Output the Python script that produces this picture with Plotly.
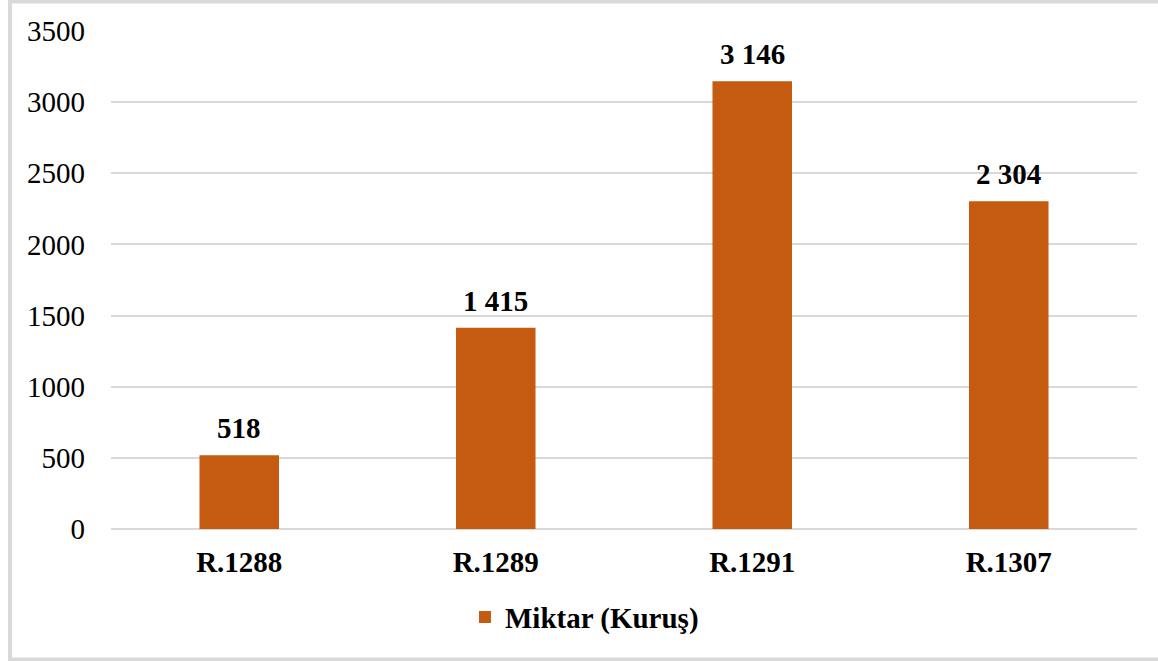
import plotly.graph_objects as go

categories = ["R.1288", "R.1289", "R.1291", "R.1307"]
values = [518, 1415, 3146, 2304]
labels = ["518", "1 415", "3 146", "2 304"]
series_name = "Miktar (Kuruş)"
y_ticks = [0, 500, 1000, 1500, 2000, 2500, 3000, 3500]

BAR = "#C55A11"
GRID = "#D9D9D9"
FONT = "Liberation Serif"
FS = 29

fig = go.Figure()
fig.add_trace(go.Bar(
    x=categories, y=values, name="<b>%s</b>" % series_name,
    marker=dict(color=BAR, line=dict(width=0)),
    showlegend=True,
))

for c, v, t in zip(categories, values, labels):
    fig.add_annotation(
        x=c, y=v, text="<b>%s</b>" % t, showarrow=False,
        xref="x", yref="y", yanchor="middle", yshift=27,
        font=dict(family=FONT, size=FS, color="black"),
    )

fig.add_shape(
    type="rect", xref="paper", yref="paper",
    x0=-0.0984, x1=1.03, y0=-0.262, y1=1.0592,
    line=dict(color=GRID, width=4), fillcolor="rgba(0,0,0,0)",
    layer="below",
)

fig.update_layout(
    width=1158, height=661,
    margin=dict(l=111, r=21, t=31, b=132),
    paper_bgcolor="white", plot_bgcolor="white",
    font=dict(family=FONT, size=FS, color="black"),
    bargap=0.69,
    showlegend=True,
    legend=dict(
        orientation="h", x=0.345, xanchor="left", y=-0.177, yanchor="middle",
        font=dict(family=FONT, size=FS, color="black"),
        itemclick=False,
    ),
    xaxis=dict(
        showgrid=False, showline=False, zeroline=False,
        tickfont=dict(family=FONT, size=FS, color="black"),
        ticklabelstandoff=13,
        tickvals=categories,
        ticktext=["<b>%s</b>" % c for c in categories],
    ),
    yaxis=dict(
        range=[0, 3500], tickvals=y_ticks,
        showgrid=True, gridcolor=GRID, gridwidth=2,
        zeroline=True, zerolinecolor=GRID, zerolinewidth=2,
        showline=False,
        tickfont=dict(family=FONT, size=FS, color="black"),
        ticklabelstandoff=25,
    ),
)

fig.write_html("out.html", config={"displayModeBar": False},
               post_script="document.body.style.margin='0';")
